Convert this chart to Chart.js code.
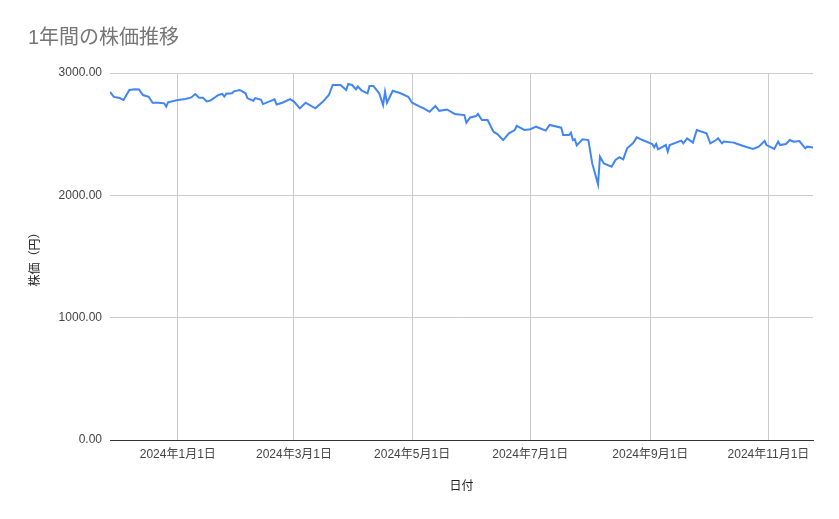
<!DOCTYPE html>
<html lang="ja">
<head>
<meta charset="utf-8">
<title>1年間の株価推移</title>
<script src="https://cdn.jsdelivr.net/npm/chart.js@4.4.1/dist/chart.umd.min.js"></script>
<style>
  html, body { margin: 0; padding: 0; background: #fff; }
  #chart-wrap { width: 839px; height: 519px; }
</style>
</head>
<body>
<div id="chart-wrap"><canvas id="chart-kabuka"></canvas></div>
<script>
// 日付 (取引日、画像から読み取り)
const fechas = [
  '2023-11-27', '2023-11-29', '2023-12-02', '2023-12-04', '2023-12-07', '2023-12-10',
  '2023-12-12', '2023-12-14', '2023-12-17', '2023-12-19', '2023-12-22', '2023-12-25',
  '2023-12-26', '2023-12-27', '2024-01-01', '2024-01-05', '2024-01-08', '2024-01-10',
  '2024-01-12', '2024-01-14', '2024-01-16', '2024-01-18', '2024-01-22', '2024-01-24',
  '2024-01-25', '2024-01-26', '2024-01-29', '2024-01-30', '2024-02-02', '2024-02-05',
  '2024-02-06', '2024-02-09', '2024-02-10', '2024-02-13', '2024-02-14', '2024-02-20',
  '2024-02-21', '2024-02-24', '2024-02-28', '2024-03-01', '2024-03-04', '2024-03-07',
  '2024-03-12', '2024-03-16', '2024-03-19', '2024-03-21', '2024-03-25', '2024-03-28',
  '2024-03-29', '2024-03-31', '2024-04-02', '2024-04-03', '2024-04-05', '2024-04-08',
  '2024-04-09', '2024-04-11', '2024-04-14', '2024-04-16', '2024-04-17', '2024-04-18',
  '2024-04-21', '2024-04-25', '2024-04-29', '2024-05-01', '2024-05-05', '2024-05-07',
  '2024-05-10', '2024-05-13', '2024-05-15', '2024-05-19', '2024-05-23', '2024-05-28',
  '2024-05-29', '2024-05-31', '2024-06-03', '2024-06-04', '2024-06-06', '2024-06-09',
  '2024-06-12', '2024-06-14', '2024-06-17', '2024-06-20', '2024-06-23', '2024-06-24',
  '2024-06-28', '2024-07-01', '2024-07-04', '2024-07-09', '2024-07-11', '2024-07-17',
  '2024-07-18', '2024-07-21', '2024-07-22', '2024-07-23', '2024-07-24', '2024-07-25',
  '2024-07-28', '2024-07-31', '2024-08-02', '2024-08-05', '2024-08-06', '2024-08-08',
  '2024-08-12', '2024-08-14', '2024-08-16', '2024-08-18', '2024-08-20', '2024-08-23',
  '2024-08-25', '2024-08-28', '2024-09-02', '2024-09-03', '2024-09-04', '2024-09-05',
  '2024-09-09', '2024-09-10', '2024-09-11', '2024-09-17', '2024-09-18', '2024-09-20',
  '2024-09-23', '2024-09-25', '2024-09-30', '2024-10-02', '2024-10-05', '2024-10-06',
  '2024-10-08', '2024-10-09', '2024-10-14', '2024-10-16', '2024-10-19', '2024-10-24',
  '2024-10-27', '2024-10-30', '2024-10-31', '2024-11-04', '2024-11-06', '2024-11-07',
  '2024-11-10', '2024-11-12', '2024-11-14', '2024-11-17', '2024-11-20', '2024-11-21',
  '2024-11-24'
];

// 株価 (円)
const precios = [
  2845, 2805, 2795, 2780, 2861, 2868,
  2866, 2820, 2806, 2757, 2757, 2752,
  2725, 2760, 2780, 2787, 2800, 2828,
  2798, 2797, 2768, 2776, 2820, 2830,
  2808, 2830, 2834, 2850, 2861, 2834,
  2793, 2773, 2795, 2780, 2746, 2785,
  2743, 2757, 2787, 2766, 2711, 2757,
  2711, 2766, 2820, 2902, 2902, 2861,
  2910, 2902, 2866, 2890, 2855, 2834,
  2894, 2894, 2834, 2738, 2847, 2757,
  2855, 2834, 2806, 2757, 2725, 2711,
  2683, 2730, 2691, 2702, 2665, 2656,
  2594, 2637, 2648, 2665, 2616, 2616,
  2520, 2501, 2452, 2507, 2534, 2567,
  2534, 2540, 2561, 2529, 2575, 2553,
  2493, 2493, 2512, 2452, 2460, 2408,
  2458, 2452, 2261, 2090, 2316, 2261,
  2234, 2289, 2311, 2294, 2384, 2425,
  2474, 2452, 2420, 2393, 2420, 2376,
  2411, 2357, 2411, 2447, 2425, 2466,
  2431, 2534, 2507, 2425, 2452, 2466,
  2425, 2440, 2431, 2420, 2403, 2379,
  2398, 2444, 2411, 2379, 2439, 2411,
  2420, 2452, 2439, 2444, 2384, 2398,
  2390
];

// 横軸の目盛り
const fechasEje = ['2024-01-01', '2024-03-01', '2024-05-01', '2024-07-01', '2024-09-01', '2024-11-01'];
const valoresEjeY = [0, 1000, 2000, 3000];

const fuente = 'Arial, "Liberation Sans", "Noto Sans CJK JP", sans-serif';

const puntos = fechas.map((f, i) => ({ x: Date.parse(f), y: precios[i] }));

const formatoFecha = (ms) => {
  const d = new Date(ms);
  return `${d.getUTCFullYear()}年${d.getUTCMonth() + 1}月${d.getUTCDate()}日`;
};

const config = {
  type: 'line',
  data: {
    datasets: [{
      label: '株価',
      data: puntos,
      borderColor: '#4285f4',
      backgroundColor: '#4285f4',
      borderWidth: 2,
      pointRadius: 0,
      tension: 0
    }]
  },
  options: {
    responsive: true,
    maintainAspectRatio: false,
    animation: false,
    layout: { padding: { left: 28, right: 26, top: 0, bottom: 0 } },
    plugins: {
      legend: { display: false },
      tooltip: { enabled: false },
      title: {
        display: true,
        text: '1年間の株価推移',
        align: 'start',
        color: '#757575',
        font: { family: fuente, size: 20, weight: 'normal' },
        padding: { top: 26, bottom: 23 }
      }
    },
    scales: {
      x: {
        type: 'linear',
        min: Date.parse(fechas[0]),
        max: Date.parse(fechas[fechas.length - 1]),
        afterBuildTicks: (scale) => {
          scale.ticks = fechasEje.map((f) => ({ value: Date.parse(f) }));
        },
        afterFit: (scale) => { scale.height = 79; },
        grid: { color: '#cccccc', lineWidth: 1, drawTicks: false },
        border: { display: true, color: '#333333', width: 1 },
        ticks: {
          color: '#444444',
          font: { family: fuente, size: 12 },
          padding: 7,
          maxRotation: 0,
          autoSkip: false,
          callback: (v) => formatoFecha(v)
        },
        title: {
          display: true,
          text: '日付',
          color: '#222222',
          font: { family: fuente, size: 12 },
          padding: { top: 0, bottom: 25 }
        }
      },
      y: {
        min: 0,
        max: 3000,
        afterBuildTicks: (scale) => {
          scale.ticks = valoresEjeY.map((v) => ({ value: v }));
        },
        afterFit: (scale) => { scale.width = 82; },
        grid: {
          color: (ctx) => (ctx.tick && ctx.tick.value === 0 ? '#333333' : '#cccccc'),
          lineWidth: 1,
          drawTicks: false
        },
        border: { display: false },
        ticks: {
          color: '#444444',
          font: { family: fuente, size: 12 },
          padding: 8,
          callback: (v) => Number(v).toFixed(2)
        },
        title: {
          display: true,
          text: '株価（円）',
          color: '#222222',
          font: { family: fuente, size: 12 },
          padding: { top: 0, bottom: 0 }
        }
      }
    }
  }
};

const chartDom = document.querySelector('#chart-kabuka');
const chartInstance = new Chart(chartDom, config);
</script>
</body>
</html>
